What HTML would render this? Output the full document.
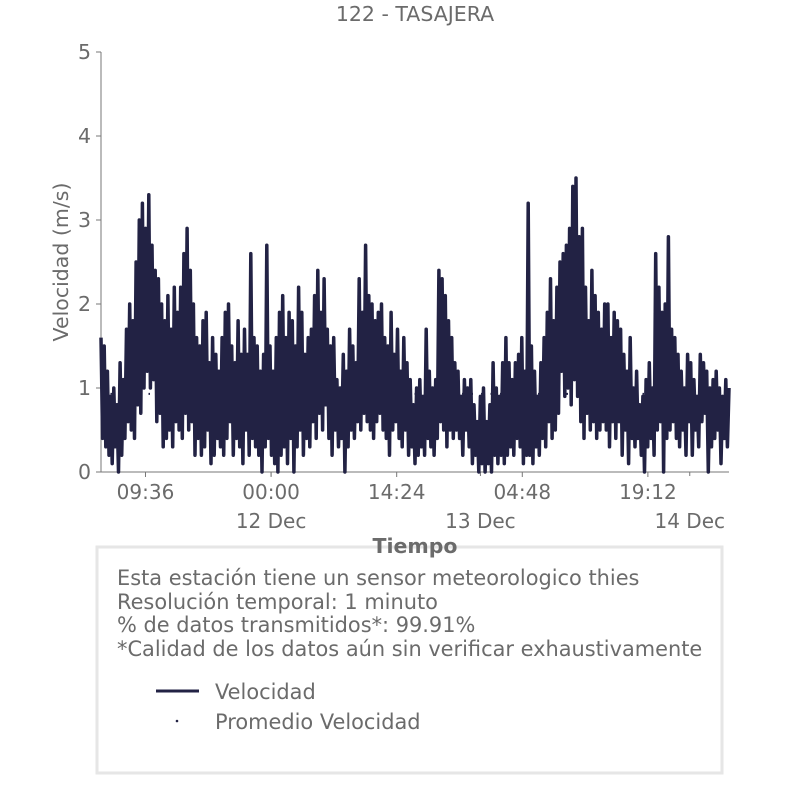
<!DOCTYPE html>
<html><head><meta charset="utf-8"><style>
body{margin:0;background:#fff;}
svg text{font-family:"DejaVu Sans","Liberation Sans",sans-serif;fill:#6b6b6b;}
</style></head><body>
<svg id="chart" width="806" height="806" viewBox="0 0 806 806">
<text x="415" y="21" font-size="20.5" text-anchor="middle">122 - TASAJERA</text>
<g id="yaxis"></g>
<g id="xaxis"></g>
<g id="plot"></g>
<text transform="translate(68,262) rotate(-90)" font-size="20.5" text-anchor="middle">Velocidad (m/s)</text>
<rect x="97" y="547" width="625" height="226" fill="#fff" stroke="#e6e6e6" stroke-width="3"/>
<text x="415" y="553" font-size="20.5" font-weight="bold" text-anchor="middle">Tiempo</text>
<g font-size="20.9">
<text x="117" y="585">Esta estación tiene un sensor meteorologico thies</text>
<text x="117" y="609">Resolución temporal: 1 minuto</text>
<text x="117" y="632">% de datos transmitidos*: 99.91%</text>
<text x="117" y="656">*Calidad de los datos aún sin verificar exhaustivamente</text>
</g>
<g>
<line x1="156" y1="691" x2="199" y2="691" stroke="#222244" stroke-width="3"/>
<text x="215" y="699" font-size="20.9">Velocidad</text>
<circle cx="177" cy="721" r="1.3" fill="#222244"/>
<text x="215" y="729" font-size="20.9">Promedio Velocidad</text>
</g>
</svg>
<script>
const yTicks=[0,1,2,3,4,5];
const xTickLabels=["09:36","00:00","14:24","04:48","19:12"];
const xTickHours=[-14.4,0,14.4,28.8,43.2];
const dayLabels=["12 Dec","13 Dec","14 Dec"];
const dayHours=[0,24,48];
const startHour=-19.5, endHour=52.5;
const average=0.93;
const vel=[1.6,0.4,1.5,0.3,1.2,0.2,0.9,0.1,1.0,0.3,0.8,0.0,1.3,0.2,1.1,0.4,1.7,0.6,2.0,0.5,1.8,0.4,
2.5,0.8,3.0,0.7,3.2,1.0,2.9,1.2,3.3,1.0,2.7,1.1,2.4,0.6,2.3,0.7,2.0,0.3,1.8,0.4,2.1,0.5,1.7,0.3,2.2,0.6,1.9,0.5,2.2,0.4,2.6,0.7,2.9,0.5,2.4,0.6,2.0,0.2,
1.6,0.4,1.5,0.2,1.8,0.3,1.9,0.5,1.3,0.1,1.6,0.2,1.4,0.4,1.2,0.3,1.6,0.2,1.9,0.4,2.0,0.6,1.5,0.2,1.3,0.4,1.8,0.3,1.4,0.1,1.7,0.5,1.4,0.2,2.6,0.4,1.6,0.3,1.5,0.2,1.2,0.0,1.4,0.3,2.7,0.4,1.5,0.2,1.2,0.1,1.6,0.0,
1.9,0.2,2.1,0.3,1.6,0.1,1.9,0.4,1.8,0.0,1.5,0.3,2.2,0.5,1.9,0.2,1.4,0.4,1.6,0.3,1.7,0.6,2.1,0.4,2.4,0.7,1.9,0.5,2.3,0.8,1.7,0.4,1.5,0.2,1.6,0.5,1.1,0.3,1.0,0.4,
1.4,0.0,1.2,0.3,1.7,0.5,1.5,0.4,1.3,0.6,2.3,0.5,1.9,0.7,2.7,0.6,2.1,0.5,2.0,0.4,1.8,0.6,1.9,0.7,2.0,0.5,1.6,0.4,1.5,0.2,1.9,0.5,1.4,0.6,1.7,0.4,1.2,0.3,1.6,0.5,
1.3,0.2,1.1,0.3,0.8,0.1,1.0,0.2,1.1,0.3,0.9,0.2,1.7,0.4,1.2,0.3,1.0,0.2,1.1,0.4,2.4,0.6,2.3,0.5,2.1,0.3,1.8,0.5,1.6,0.4,1.3,0.5,1.2,0.4,0.9,0.2,1.1,0.5,1.0,0.3,1.1,0.1,0.8,0.2,
0.6,0.0,0.9,0.1,1.0,0.0,0.6,0.1,0.8,0.0,1.3,0.2,1.0,0.1,0.9,0.2,1.3,0.1,1.6,0.2,1.3,0.3,1.1,0.2,1.3,0.4,
1.4,0.3,1.6,0.1,1.2,0.2,3.2,0.2,1.5,0.1,1.2,0.3,0.9,0.2,1.3,0.4,1.6,0.3,1.9,0.6,2.3,0.4,1.8,0.5,2.2,0.7,
2.5,1.2,2.6,0.9,2.7,1.0,2.9,0.8,3.4,1.1,3.5,0.9,2.8,0.6,2.9,0.4,2.2,0.7,1.8,0.5,2.4,0.6,2.1,0.4,1.9,0.5,1.7,0.6,2.0,0.5,
2.0,0.3,1.6,0.6,1.9,0.4,1.8,0.6,1.7,0.2,1.4,0.5,1.2,0.1,1.6,0.4,1.0,0.3,1.2,0.4,0.8,0.2,0.9,0.0,1.1,0.3,1.3,0.4,1.0,0.2,
2.6,0.5,2.2,0.6,1.9,0.0,2.0,0.4,2.8,0.5,1.7,0.6,1.6,0.4,1.4,0.3,1.2,0.5,1.0,0.2,1.4,0.6,1.3,0.2,1.1,0.5,0.9,0.3,1.4,0.6,1.3,0.7,1.2,0.0,1.0,0.3,1.1,0.4,1.2,0.5,1.0,0.1,0.9,0.4,1.1,0.3,1.0];
const NS="http://www.w3.org/2000/svg";
const L=101,R=729,T=52,B=472;
const xs=h=>L+(h-startHour)/(endHour-startHour)*(R-L);
const ys=v=>B-v/5*(B-T);
function mk(tag,attrs,parent,txt){const e=document.createElementNS(NS,tag);for(const k in attrs)e.setAttribute(k,attrs[k]);if(txt!==undefined)e.textContent=txt;parent.appendChild(e);return e;}
const ya=document.getElementById('yaxis'),xa=document.getElementById('xaxis'),pl=document.getElementById('plot');
let e=mk('line',{x1:L,y1:T,x2:L,y2:B,stroke:'#777','stroke-width':1},ya);


yTicks.forEach(v=>{
 let t=mk('line',{x1:L-5,y1:ys(v),x2:L,y2:ys(v),stroke:'#777'},ya);
 
 
 let l=mk('text',{x:L-10,y:ys(v)+7,'font-size':20.5,'text-anchor':'end'},ya,String(v));
 
 
});
e=mk('line',{x1:L,y1:B,x2:R,y2:B,stroke:'#777','stroke-width':1},xa);


xTickHours.forEach((h,i)=>{
 let t=mk('line',{x1:xs(h),y1:B,x2:xs(h),y2:B+5,stroke:'#777'},xa);
 
 
 let l=mk('text',{x:xs(h),y:B+27,'font-size':20,'text-anchor':'middle'},xa,xTickLabels[i]);
 
 
});
dayHours.forEach((h,i)=>{
 let t=mk('line',{x1:xs(h),y1:B,x2:xs(h),y2:B+4,stroke:'#777'},xa);
 
 
 let l=mk('text',{x:xs(h),y:B+56,'font-size':20,'text-anchor':'middle'},xa,dayLabels[i]);
 
 
});
let avg=mk('line',{x1:L,y1:ys(average),x2:R,y2:ys(average),stroke:'#222244','stroke-width':2,'stroke-dasharray':'1.5 8'},pl);


const pts=vel.map((v,i)=>{const h=startHour+i/(vel.length-1)*(endHour-startHour);return xs(h).toFixed(1)+','+ys(v).toFixed(1);}).join(' ');
let line=mk('polyline',{points:pts,fill:'none',stroke:'#222244','stroke-width':3.5,'stroke-linejoin':'round'},pl);


</script>
</body></html>
